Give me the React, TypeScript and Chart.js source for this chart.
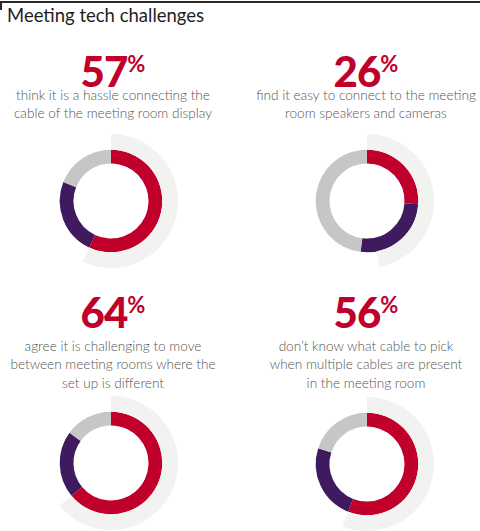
import React, { useEffect, useRef } from "react";
import { Chart, registerables } from "chart.js";

Chart.register(...registerables);

const TITLE = "Meeting tech challenges";
const headlineValues = [57, 26, 64, 56];
const descriptions = [
  ["think it is a hassle connecting the", "cable of the meeting room display"],
  ["find it easy to connect to the meeting", "room speakers and cameras"],
  ["agree it is challenging to move", "between meeting rooms where the", "set up is different"],
  ["don\u2019t know what cable to pick", "when multiple cables are present", "in the meeting room"],
];
const segmentLabels = ["Agree", "Neutral", "Other"];
const redValues = [57, 26, 64, 56];
const purpleValues = [24, 26, 21, 24];
const greyValues = [19, 48, 15, 20];
const shadowValues = [57, 47, 64, 56];

const RED = "#c0002b";
const PURPLE = "#3f1a5e";
const GREY = "#c6c6c4";
const SHADOW = "#f2f2f0";

const panels = [
  { cx: 113, numTop: 50, descTop: 85.5, dcx: 110.5, dcy: 200.5 },
  { cx: 366, numTop: 50, descTop: 85.5, dcx: 366.5, dcy: 201 },
  { cx: 113, numTop: 291, descTop: 336.5, dcx: 110.7, dcy: 463 },
  { cx: 366, numTop: 291, descTop: 336.5, dcx: 366.7, dcy: 463.5 },
];

const R = 67;

function Donut({ idx, left, top }: { idx: number; left: number; top: number }) {
  const ref = useRef<HTMLCanvasElement | null>(null);
  useEffect(() => {
    if (!ref.current) return;
    const chart = new Chart(ref.current, {
      type: "doughnut",
      data: {
        labels: segmentLabels,
        datasets: [
          {
            data: [shadowValues[idx], 100 - shadowValues[idx], 0],
            backgroundColor: [SHADOW, "rgba(0,0,0,0)", "rgba(0,0,0,0)"],
            borderWidth: 0,
            hoverBorderWidth: 0,
            weight: 16,
          } as any,
          {
            data: [redValues[idx], purpleValues[idx], greyValues[idx]],
            backgroundColor: [RED, PURPLE, GREY],
            borderWidth: 0,
            hoverBorderWidth: 0,
            weight: 14,
          } as any,
        ],
      },
      options: {
        responsive: false,
        animation: false,
        cutout: "56%",
        layout: { padding: 0 },
        events: [],
        plugins: { legend: { display: false }, tooltip: { enabled: false } },
      } as any,
    });
    return () => chart.destroy();
  }, [idx]);
  return (
    <canvas
      ref={ref}
      width={R * 2}
      height={R * 2}
      style={{ position: "absolute", left, top, width: R * 2, height: R * 2 }}
    />
  );
}

export default function App() {
  useEffect(() => {
    document.body.style.margin = "0";
  }, []);
  return (
    <div style={{ position: "relative", width: 480, height: 531, overflow: "hidden", background: "#fff" }}>
      <div style={{ position: "absolute", left: 0, top: 1, width: 480, height: 2, background: "#2a2a2a" }} />
      <div style={{ position: "absolute", left: 0, top: 1, width: 2, height: 9, background: "#2a2a2a" }} />
      <div
        style={{
          position: "absolute",
          left: 7,
          top: 4,
          fontFamily: "Lato, 'Noto Sans', sans-serif",
          fontSize: 18.5,
          lineHeight: "22px",
          color: "#1e1e1e",
          whiteSpace: "nowrap",
        }}
      >
        {TITLE}
      </div>
      {panels.map((p, i) => (
        <React.Fragment key={i}>
          <div
            style={{
              position: "absolute",
              left: p.cx - 120,
              width: 240,
              top: p.numTop,
              textAlign: "center",
              fontFamily: "Lato, 'Noto Sans', sans-serif",
              color: RED,
              lineHeight: "42px",
              whiteSpace: "nowrap",
            }}
          >
            <span style={{ fontSize: 42, fontWeight: 900, letterSpacing: -1 }}>{headlineValues[i]}</span>
            <span style={{ fontSize: 22, fontWeight: 700, verticalAlign: "top", lineHeight: "28px" }}>%</span>
          </div>
          <div
            style={{
              position: "absolute",
              left: p.cx - 130,
              width: 260,
              top: p.descTop,
              textAlign: "center",
              fontFamily: "Lato, 'Noto Sans', sans-serif",
              fontWeight: 300,
              fontSize: 13.6,
              lineHeight: "18.5px",
              color: "#555",
              whiteSpace: "nowrap",
            }}
          >
            {descriptions[i].map((l, j) => (
              <div key={j}>{l}</div>
            ))}
          </div>
          <Donut idx={i} left={p.dcx - R} top={p.dcy - R} />
        </React.Fragment>
      ))}
    </div>
  );
}
